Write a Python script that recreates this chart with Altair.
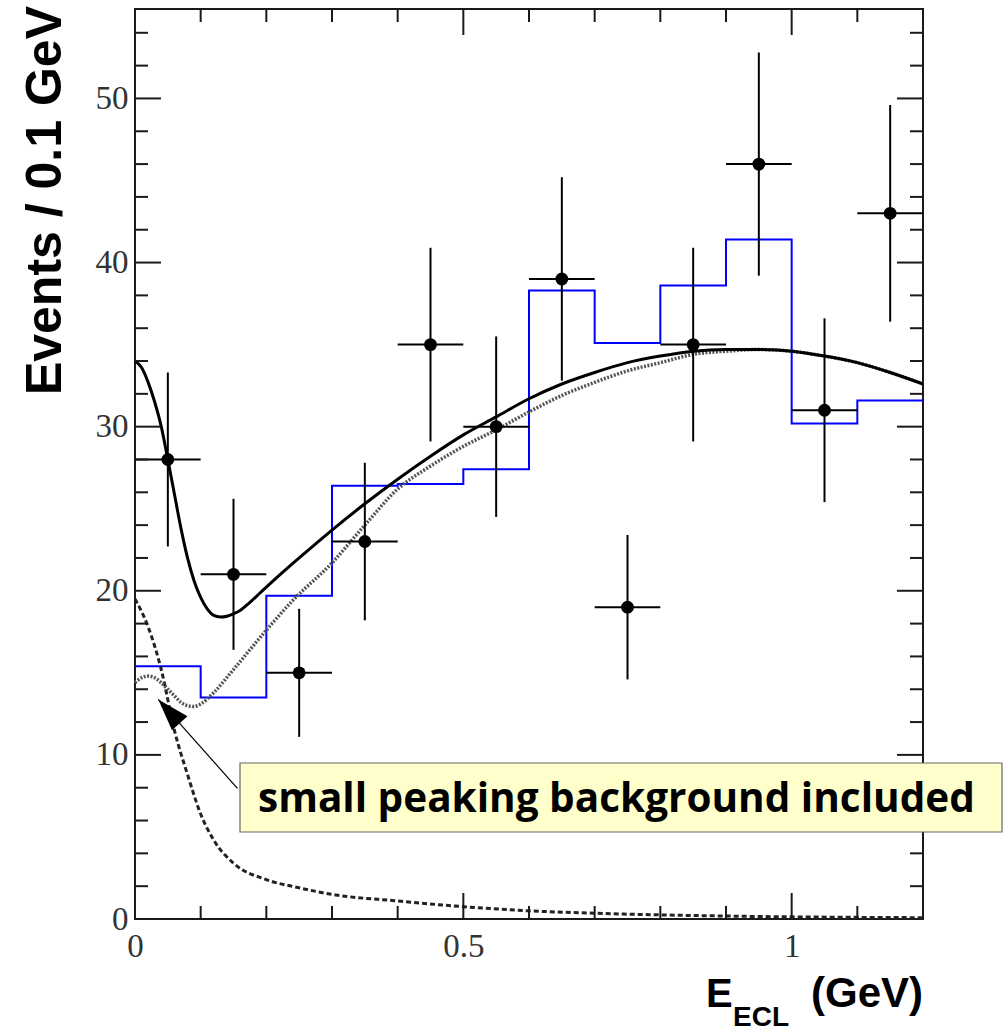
import altair as alt
import pandas as pd

# ---------------- data ----------------
bin_centers = [0.05, 0.15, 0.25, 0.35, 0.45, 0.55, 0.65, 0.75, 0.85, 0.95, 1.05, 1.15]
counts = [28, 21, 15, 23, 35, 30, 39, 19, 35, 46, 31, 43]
count_errors = [5.3, 4.6, 3.9, 4.8, 5.9, 5.5, 6.2, 4.4, 5.9, 6.8, 5.6, 6.6]
bin_half_width = 0.05

hist_edges = [0.0, 0.1, 0.2, 0.3, 0.4, 0.5, 0.6, 0.7, 0.8, 0.9, 1.0, 1.1, 1.2]
hist_values = [15.4, 13.5, 19.7, 26.4, 26.5, 27.4, 38.3, 35.1, 38.6, 41.4, 30.2, 31.6]

total_x = [0.0, 0.01, 0.02, 0.03, 0.04, 0.05, 0.06, 0.07, 0.08, 0.09, 0.10, 0.11, 0.12,
           0.13, 0.14, 0.15, 0.16, 0.175, 0.19, 0.22, 0.25, 0.30, 0.35, 0.40, 0.45, 0.50,
           0.55, 0.60, 0.65, 0.70, 0.75, 0.80, 0.85, 0.90, 0.95, 1.00, 1.05, 1.10, 1.15, 1.20]
total_y = [34.0, 33.6, 32.7, 31.5, 30.0, 28.0, 25.9, 23.8, 22.0, 20.6, 19.6, 18.9, 18.5,
           18.4, 18.45, 18.6, 18.8, 19.3, 19.85, 20.95, 22.0, 23.7, 25.3, 26.8, 28.2, 29.5,
           30.6, 31.7, 32.6, 33.3, 33.9, 34.3, 34.6, 34.7, 34.7, 34.6, 34.3, 33.9, 33.3, 32.6]

nopeak_x = [0.0, 0.01, 0.02, 0.03, 0.04, 0.05, 0.06, 0.07, 0.08, 0.09, 0.10, 0.12, 0.15,
            0.20, 0.24, 0.30, 0.35, 0.40, 0.45, 0.50, 0.55, 0.60, 0.65, 0.70, 0.75, 0.80,
            0.85, 0.90, 0.95, 1.00, 1.05, 1.10, 1.15, 1.20]
nopeak_y = [14.4, 14.7, 14.8, 14.7, 14.4, 14.0, 13.6, 13.2, 13.0, 12.95, 13.1, 13.8, 15.2,
            17.6, 19.4, 21.7, 24.0, 26.2, 27.6, 28.8, 29.8, 30.9, 31.9, 32.7, 33.4, 33.9,
            34.4, 34.6, 34.7, 34.6, 34.3, 33.9, 33.3, 32.6]

peak_x = [0.0, 0.02, 0.04, 0.06, 0.08, 0.10, 0.12, 0.15, 0.20, 0.25, 0.30, 0.40, 0.50,
          0.60, 0.70, 0.80, 0.90, 1.00, 1.10, 1.20]
peak_y = [19.5, 17.8, 15.2, 11.5, 8.8, 6.4, 4.8, 3.4, 2.4, 1.9, 1.5, 1.1, 0.75,
          0.5, 0.35, 0.25, 0.18, 0.13, 0.10, 0.08]

x_major_ticks = [0.5, 1.0]
x_minor_ticks = [0.1, 0.2, 0.3, 0.4, 0.6, 0.7, 0.8, 0.9, 1.1]
y_major_ticks = [10, 20, 30, 40, 50]
y_minor_ticks = [2, 4, 6, 8, 12, 14, 16, 18, 22, 24, 26, 28, 32, 34, 36, 38,
                 42, 44, 46, 48, 52, 54]
x_label_values = [0, 0.5, 1]
y_label_values = [0, 10, 20, 30, 40, 50]

annotation_text = "small peaking background included"
arrow_tip = (0.0355, 13.38)
arrow_tail = (0.156, 7.96)

# ---------------- layout ----------------
W, H = 788, 910
XMAX, YMAX = 1.2, 55.45
MINOR, MAJOR = 13, 26
INK = "#1a1a1a"

xs = alt.Scale(domain=[0, XMAX], nice=False, zero=False)
ys = alt.Scale(domain=[0, YMAX], nice=False, zero=False)

axis_font = "Liberation Serif"
AX = alt.Axis(values=x_label_values, format="~g", tickSize=0, domain=False,
              grid=False, labelFont=axis_font, labelFontSize=33,
              labelColor="#333", labelPadding=11, labelFlush=False, title=None)
AY = alt.Axis(values=y_label_values, format="d", tickSize=0, domain=False,
              grid=False, labelFont=axis_font, labelFontSize=33,
              labelColor="#333", labelPadding=7, labelFlush=False, title=None)


def X(f):
    return alt.X(f, scale=xs, axis=AX, title=None)


def Y(f):
    return alt.Y(f, scale=ys, axis=AY, title=None)


pts = pd.DataFrame({"x": bin_centers, "y": counts, "e": count_errors})
pts["lo"] = pts["y"] - pts["e"]
pts["hi"] = pts["y"] + pts["e"]
pts["xl"] = pts["x"] - bin_half_width
pts["xh"] = pts["x"] + bin_half_width

hist = pd.DataFrame({"x": hist_edges, "y": hist_values + [hist_values[-1]]})
total = pd.DataFrame({"x": total_x, "y": total_y})
nopeak = pd.DataFrame({"x": nopeak_x, "y": nopeak_y})
peak = pd.DataFrame({"x": peak_x, "y": peak_y})

layers = []

# blue histogram
layers.append(alt.Chart(hist).mark_line(interpolate="step-after", color="#0000ff",
                                        strokeWidth=2).encode(x=X("x:Q"), y=Y("y:Q")))

# curves
layers.append(alt.Chart(peak).mark_line(interpolate="monotone", color="#222",
                                        strokeWidth=3, strokeDash=[5, 3]).encode(
    x=X("x:Q"), y=Y("y:Q")))
layers.append(alt.Chart(nopeak).mark_line(interpolate="monotone", color="#555",
                                          strokeWidth=3.5, strokeDash=[2, 1.5]).encode(
    x=X("x:Q"), y=Y("y:Q")))
layers.append(alt.Chart(total).mark_line(interpolate="monotone", color="#000",
                                         strokeWidth=3).encode(x=X("x:Q"), y=Y("y:Q")))

# error bars and points
layers.append(alt.Chart(pts).mark_rule(color="#000", strokeWidth=2).encode(
    x=X("x:Q"), y=Y("lo:Q"), y2="hi:Q"))
layers.append(alt.Chart(pts).mark_rule(color="#000", strokeWidth=2).encode(
    x=X("xl:Q"), x2="xh:Q", y=Y("y:Q")))
layers.append(alt.Chart(pts).mark_circle(color="#000", opacity=1, size=165).encode(
    x=X("x:Q"), y=Y("y:Q")))


# inward ticks on all four sides
def xticks(vals, length, top):
    df = pd.DataFrame({"v": vals})
    y0, y1 = (0, length) if top else (H, H - length)
    return alt.Chart(df).mark_rule(color=INK, strokeWidth=2).encode(
        x=X("v:Q"), y=alt.value(y0), y2=alt.value(y1))


def yticks(vals, length, right):
    df = pd.DataFrame({"v": vals})
    x0, x1 = (W, W - length) if right else (0, length)
    return alt.Chart(df).mark_rule(color=INK, strokeWidth=2).encode(
        y=Y("v:Q"), x=alt.value(x0), x2=alt.value(x1))


for top in (False, True):
    layers.append(xticks(x_minor_ticks, MINOR, top))
    layers.append(xticks(x_major_ticks, MAJOR, top))
for right in (False, True):
    layers.append(yticks(y_minor_ticks, MINOR, right))
    layers.append(yticks(y_major_ticks, MAJOR, right))

# annotation arrow
arrow_df = pd.DataFrame({"x": [arrow_tip[0]], "y": [arrow_tip[1]],
                         "x2": [arrow_tail[0]], "y2": [arrow_tail[1]]})
layers.append(alt.Chart(arrow_df).mark_rule(color="#000", strokeWidth=1.2).encode(
    x=X("x:Q"), y=Y("y:Q"), x2="x2:Q", y2="y2:Q"))
layers.append(alt.Chart(arrow_df).mark_point(
    shape="M0,0L0.65,2L-0.65,2Z", filled=True, color="#000", opacity=1,
    size=1024, angle=318, strokeWidth=0).encode(x=X("x:Q"), y=Y("y:Q")))

one = pd.DataFrame({"t": [annotation_text]})
layers.append(alt.Chart(one).mark_rect(fill="#ffffcc", stroke="#666", strokeWidth=1.2).encode(
    x=alt.value(105), x2=alt.value(867), y=alt.value(754), y2=alt.value(823)))
layers.append(alt.Chart(one).mark_text(font="Open Sans", fontWeight="bold", fontSize=40.5,
                                       align="left", baseline="alphabetic", color="#000").encode(
    x=alt.value(123), y=alt.value(803), text="t:N"))

# axis titles
layers.append(alt.Chart(pd.DataFrame({"t": ["Events / 0.1 GeV"]})).mark_text(
    font="Liberation Sans", fontWeight="bold", fontSize=50, angle=270,
    align="right", baseline="alphabetic", color="#000").encode(
    x=alt.value(-74), y=alt.value(-3), text="t:N"))
layers.append(alt.Chart(pd.DataFrame({"t": ["E"]})).mark_text(
    font="Liberation Sans", fontWeight="bold", fontSize=40, align="left",
    baseline="alphabetic", color="#000").encode(
    x=alt.value(571), y=alt.value(998), text="t:N"))
layers.append(alt.Chart(pd.DataFrame({"t": ["ECL"]})).mark_text(
    font="Liberation Sans", fontWeight="bold", fontSize=28, align="left",
    baseline="alphabetic", color="#000").encode(
    x=alt.value(598), y=alt.value(1017), text="t:N"))
layers.append(alt.Chart(pd.DataFrame({"t": ["(GeV)"]})).mark_text(
    font="Liberation Sans", fontWeight="bold", fontSize=42, align="right",
    baseline="alphabetic", color="#000").encode(
    x=alt.value(788), y=alt.value(998), text="t:N"))

chart = alt.layer(*layers).properties(
    width=W, height=H,
    autosize=alt.AutoSizeParams(type="none"),
    padding={"left": 135, "top": 9, "right": 80, "bottom": 113},
    background="white",
).configure_view(stroke=INK, strokeWidth=2)

chart.save("out.html", embed_options={"renderer": "svg", "actions": False})
